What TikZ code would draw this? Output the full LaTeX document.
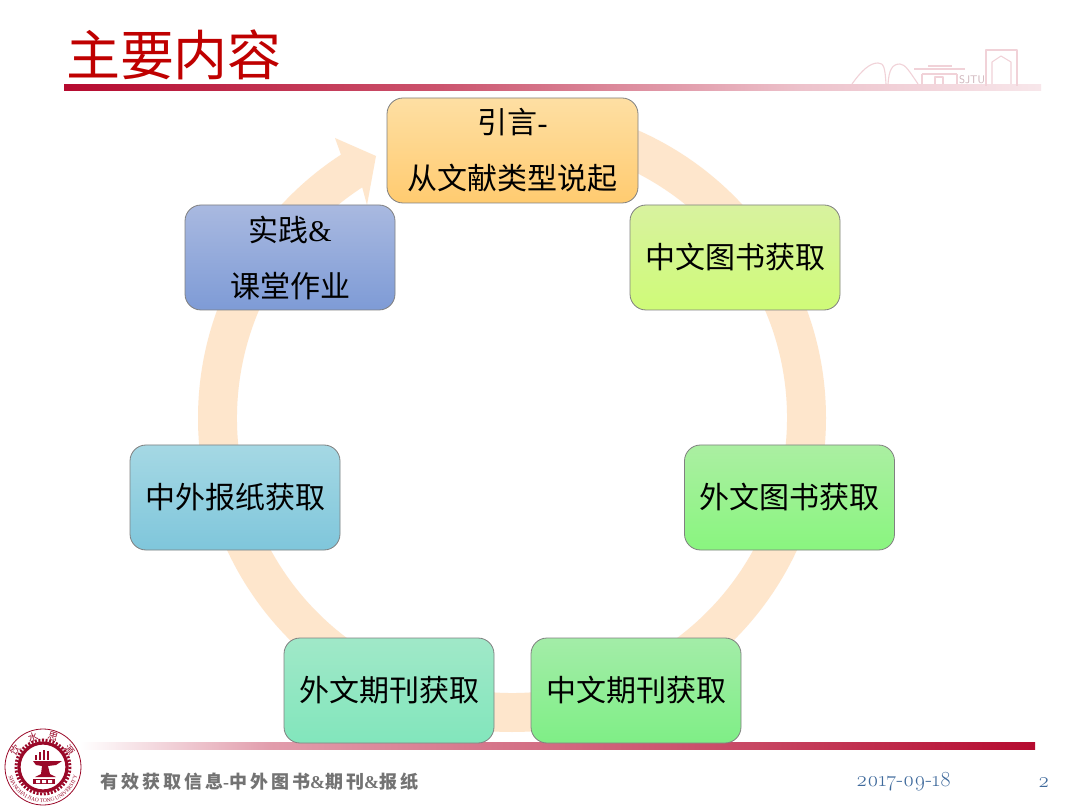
\documentclass[tikz,border=0pt]{standalone}
\usepackage{fontspec}
\setmainfont{Liberation Serif}
\newfontfamily\cjk{Noto Sans CJK SC}
\newfontfamily\olds[Numbers=OldStyle]{Latin Modern Roman}
\usetikzlibrary{calc,decorations.text}
\definecolor{ringc}{HTML}{FEE6CC}
\definecolor{sjred}{HTML}{B50A2F}
\definecolor{skyc}{HTML}{F1D2D8}
\definecolor{datec}{HTML}{3F6A9C}
\definecolor{aT}{HTML}{FEDFA3}\definecolor{aB}{HTML}{FFCB70}
\definecolor{bT}{HTML}{D8F29F}\definecolor{bB}{HTML}{CFFB78}
\definecolor{cT}{HTML}{ABEFA2}\definecolor{cB}{HTML}{89F57F}
\definecolor{dT}{HTML}{A3EDA8}\definecolor{dB}{HTML}{7FEE86}
\definecolor{eT}{HTML}{A0E8C8}\definecolor{eB}{HTML}{82E6BC}
\definecolor{fT}{HTML}{A5D8E4}\definecolor{fB}{HTML}{7FC6DB}
\definecolor{gT}{HTML}{A9B9E0}\definecolor{gB}{HTML}{7E9BD6}
\tikzset{
  stage/.style={draw=black!50,line width=0.8pt,rounded corners=16pt,minimum width=210pt,minimum height=105pt,inner sep=0pt,align=center,font=\cjk\fontsize{30}{56}\selectfont},
  skyline/.style={draw=skyc,line width=1.1pt,line join=round},
  sealline/.style={draw=sjred!85!black},
  sealchar/.style={inner sep=0pt,text=sjred!85!black,font=\cjk\fontsize{10}{10}\selectfont}
}
\begin{document}
\begin{tikzpicture}[x=1pt,y=-1pt]
\useasboundingbox (0,0) rectangle (1080,810);
\fill[white] (0,0) rectangle (1080,810);
% title bar
\shade[left color=sjred,right color=sjred!70!white] (64,85) rectangle (440.5,91);
\shade[left color=sjred!70!white,right color=sjred!25!white] (440,85) rectangle (800.5,91);
\shade[left color=sjred!25!white,right color=sjred!10!white] (800,85) rectangle (1041,91);
% footer bar
\shade[left color=white,right color=sjred!40!white] (80,742) rectangle (270.5,749);
\shade[left color=sjred!40!white,right color=sjred!75!white] (270,742) rectangle (750.5,749);
\shade[left color=sjred!75!white,right color=sjred] (750,742) rectangle (1035,749);
% title
\node[inner sep=0pt,text=red!75!black] (title) at (174,55) {\cjk\fontsize{54}{54}\selectfont 主要内容};
% skyline
\draw[skyline] (852,84) .. controls (862,70) and (870,63) .. (878,63) .. controls (884,63) and (885,68) .. (886,84);
\draw[skyline] (888,84) .. controls (889,70) and (892,64) .. (900,64) .. controls (905,64) and (910,72) .. (918,84);
\draw[skyline] (914,69) -- (965,69) (928,66) -- (952,66) (922,74) -- (957,74) (922,74) -- (922,84) (957,74) -- (957,84);
\draw[skyline] (935,84) -- (935,77) -- (943,77) -- (943,84);
\node[inner sep=0pt,text=skyc!85!black,font=\sffamily\fontsize{11}{11}\selectfont] (sjtu) at (972,79.5) {SJTU};
\draw[skyline] (986,86) -- (986,50) -- (1017,50) -- (1017,86);
\draw[skyline] (992,84) -- (992,62) -- (1001,56) -- (1011,62) -- (1011,84);
% ring with arrow head
\coordinate (c) at (512,418);
\coordinate (barbo) at (335,138);
\coordinate (tip) at (376,156);
\coordinate (barbi) at (367,205);
\fill[ringc] ($(c)+(-90:314)$) arc[start angle=-90,end angle=237,radius=314]
  -- (barbo) -- (tip) -- (barbi) -- ($(c)+(237:275)$)
  arc[start angle=237,end angle=-90,radius=275] -- cycle;
% stages
\node[stage,minimum width=251pt,top color=aT,bottom color=aB] (n1) at (512.5,150.5) {引言{\rmfamily -}\\从文献类型说起};
\node[stage,top color=bT,bottom color=bB] (n2) at (735,257.5) {中文图书获取};
\node[stage,top color=cT,bottom color=cB] (n3) at (789.5,497.5) {外文图书获取};
\node[stage,top color=dT,bottom color=dB] (n4) at (636,690.5) {中文期刊获取};
\node[stage,top color=eT,bottom color=eB] (n5) at (389,690.5) {外文期刊获取};
\node[stage,top color=fT,bottom color=fB] (n6) at (235,497.5) {中外报纸获取};
\node[stage,top color=gT,bottom color=gB] (n7) at (290,257.5) {实践{\rmfamily\&}\\课堂作业};
% seal
\coordinate (s) at (43,767);
\fill[white] (s) circle[radius=38.5];
\draw[sealline,line width=0.8pt] (s) circle[radius=38];
\draw[sealline,line width=3pt,dash pattern=on 2pt off 1.6pt] (s) circle[radius=27];
\draw[sealline,line width=3.2pt] (s) circle[radius=24];
\node[sealchar,rotate=52] (s1) at (16,750) {饮};
\node[sealchar,rotate=18] (s2) at (33,737) {水};
\node[sealchar,rotate=-18] (s3) at (53,737) {思};
\node[sealchar,rotate=-52] (s4) at (70,750) {源};
\path[postaction={decorate,decoration={text along path,text align=center,text color=sjred!85!black,
  text={|\rmfamily\fontsize{5.5}{6}\selectfont|SHANGHAI JIAO TONG UNIVERSITY}}}]
  ($(s)+(170:35.5)$) arc[start angle=170,end angle=10,radius=35.5];
\fill[sjred!85!black] (33,761) -- (62,761) -- (56,765) -- (48,766) -- (50,774) -- (56,777) -- (35,777) -- (41,774) -- (42,766) -- (36,765) -- cycle;
\fill[sjred!85!black] (33,779) rectangle (55,784);
\fill[white] (36,780) rectangle (40,783) (42,780) rectangle (46,783) (48,780) rectangle (52,783);
\draw[sealline,line width=1.2pt] (36,760) -- (36,755) (40,760) -- (40,752) (44,760) -- (44,750) (48,760) -- (48,751);
% footer
\node[inner sep=0pt,anchor=west,text=black!55,font=\cjk\bfseries\fontsize{18}{20}\selectfont] (foot) at (100,782) {有\,效\,获\,取\,信\,息{\rmfamily -}中\,外\,图\,书{\rmfamily\&}期\,刊{\rmfamily\&}报\,纸};
\node[inner sep=0pt,anchor=west,text=datec,font=\olds\fontsize{21.5}{22}\selectfont] (date) at (856,782) {2017-09-18};
\node[inner sep=0pt,anchor=west,text=datec,font=\olds\fontsize{21.5}{22}\selectfont] (page) at (1038,782) {2};
\end{tikzpicture}
\end{document}
